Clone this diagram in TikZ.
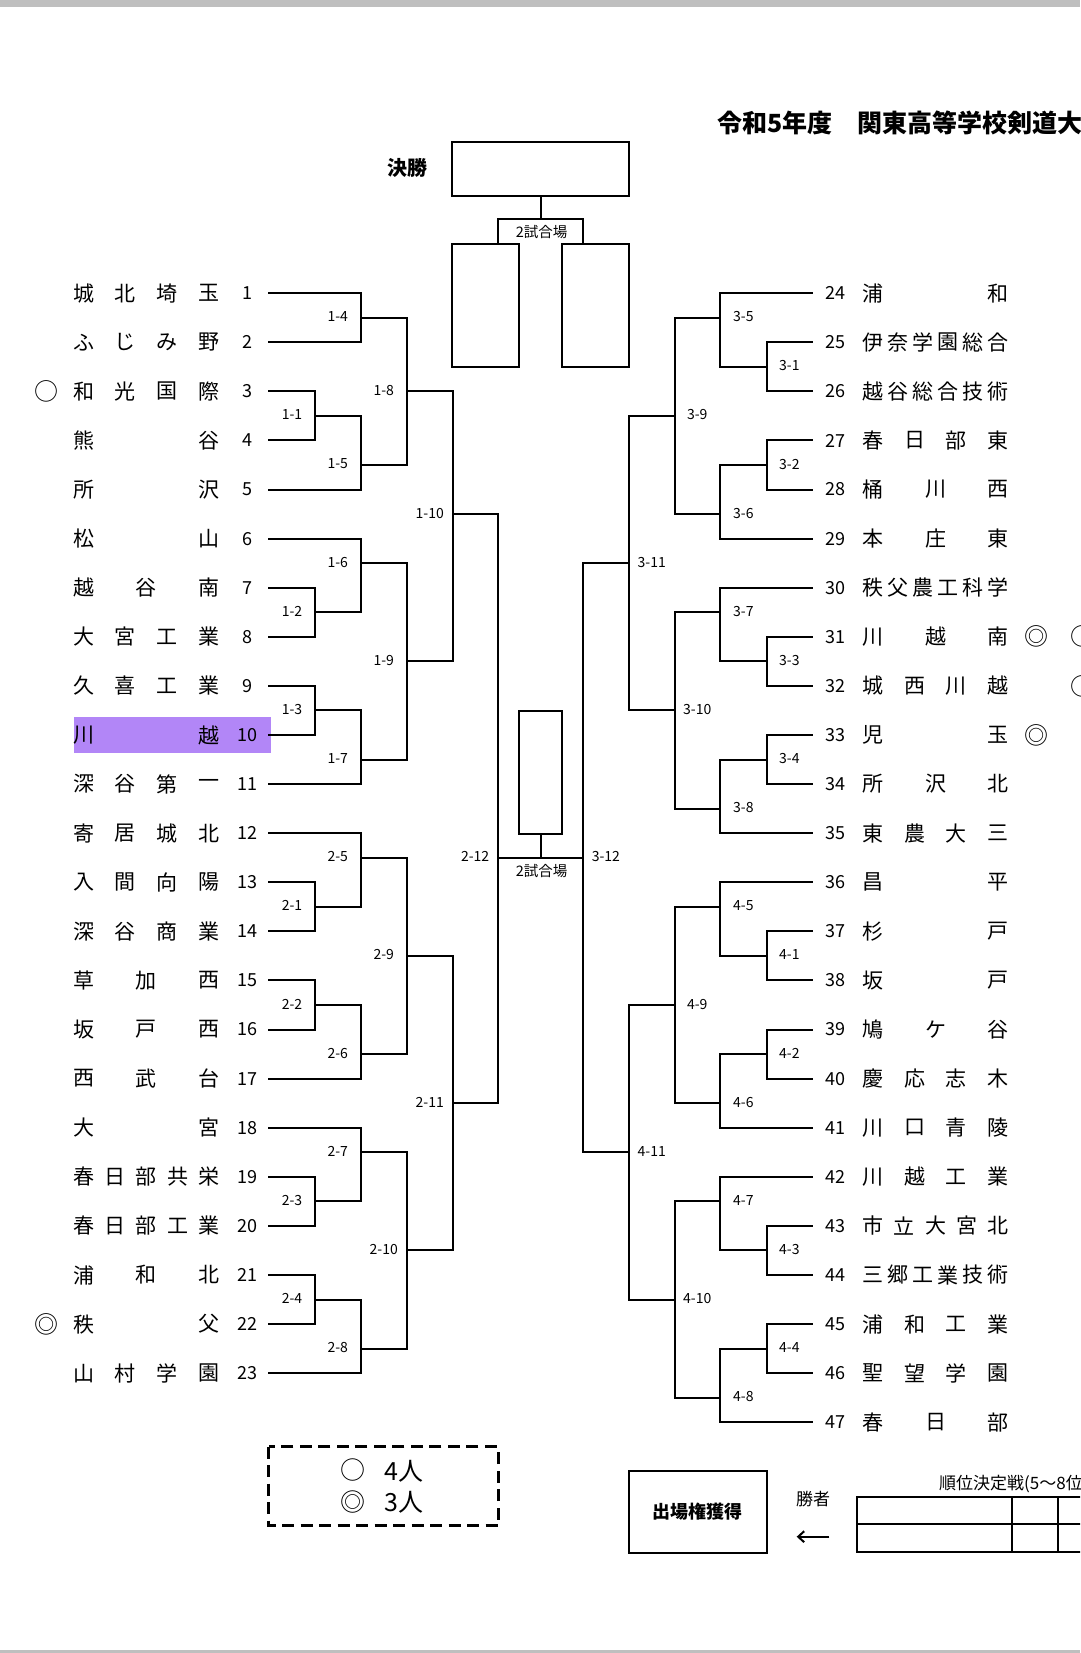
\documentclass[tikz,border=0pt]{standalone}
\usepackage{fontspec}
\setmainfont{Noto Sans CJK JP}
\usetikzlibrary{arrows.meta}
\definecolor{hl}{RGB}{178,134,247}
\definecolor{band}{RGB}{191,191,191}
% levels (px)
\def\Lo{269}\def\La{315}\def\Lb{360.5}\def\Lc{407}\def\Ld{452.5}\def\Le{497.8}
\def\Ro{812}\def\Ra{766.8}\def\Rb{720}\def\Rc{674.5}\def\Rd{629}\def\Re{582.7}
\def\Cx{540.75}
\newcommand\Ym[1]{293.2+(#1-1)*49.09}
\tikzset{
  brk/.style={line width=2pt, line cap=rect},
  boxln/.style={line width=2.3pt},
  nm/.style={font=\fontsize{21}{21}\selectfont, inner sep=0pt},
  num/.style={font=\fontsize{18}{18}\selectfont, inner sep=0pt},
  lbl/.style={font=\fontsize{14}{14}\selectfont, inner sep=0pt},
  mk/.style={font=\fontsize{24}{24}\selectfont, inner sep=0pt},
}
\newcommand\placename[5]{%
  \foreach \ch [count=\cnt] in {#4} {\xdef\nch{\cnt}}%
  \foreach \ch [count=\kk] in {#4} {%
    \node[nm] (#5c\kk) at ({#1+(#2-#1)*(\kk-1)/(\nch-1)},{\Ym{#3}}) {\ch};
  }%
}
\newcommand\teamL[3]{%
  \node[num] (nL#1) at (247,{\Ym{#1}}) {#1};
  \placename{83.5}{209}{#1}{#2}{L#1}
  \draw[brk] (\Lo,{\Ym{#1}}) -- (#3,{\Ym{#1}});
}
\newcommand\teamR[3]{%
  \node[num] (nR#1) at (835.5,{\Ym{#1-23}}) {#1};
  \placename{873}{998}{#1-23}{#2}{R#1}
  \draw[brk] (\Ro,{\Ym{#1-23}}) -- (#3,{\Ym{#1-23}});
}
% label, xv, xprev, ya, yb, yout, xparent
\newcommand\match[7]{%
  \draw[brk] (#2,{\Ym{#4}}) -- (#2,{\Ym{#5}});
  \draw[brk] (#2,{\Ym{#6}}) -- (#7,{\Ym{#6}});
  \node[lbl] (m#1) at ({(#2+#3)/2},{\Ym{#6}-1}) {#1};
}
\begin{document}
\begin{tikzpicture}[x=1pt,y=-1pt]
\useasboundingbox (0,0) rectangle (1080,1653);
\begin{scope}
\clip (0,0) rectangle (1080,1653);
\fill[white] (0,0) rectangle (1080,1653);
\fill[band] (0,0) rectangle (1080,6.7);
\fill[band] (0,1650) rectangle (1080,1653);

% title
\node[font=\bfseries\fontsize{25}{25}\selectfont, anchor=west, inner sep=0pt] (title) at (717,122.5) {令和5年度　関東高等学校剣道大};

% final boxes
\node[font=\bfseries\fontsize{20}{20}\selectfont, inner sep=0pt] (kessho) at (407,168.3) {決勝};
\draw[boxln] (452.3,141.7) rectangle (629.3,195.7);
\coordinate (finB) at (540.5,195.7);
\coordinate (courtT) at (540.5,219);
\draw[brk] (finB) -- (courtT);
\draw[line width=2pt] (497.7,244) -- (497.7,219) -- (583.3,219) -- (583.3,244);
\node[font=\fontsize{14.5}{14.5}\selectfont, inner sep=0pt] (court1) at (541.7,231.7) {2試合場};
\draw[line width=2pt] (452.3,244) rectangle (519.3,367.3);
\draw[line width=2pt] (561.7,244) rectangle (629.3,367.3);

% centre box
\draw[line width=2pt] (519.3,711) rectangle (562.3,834);
\coordinate (cbB) at (540.7,834);
\coordinate (cbJ) at (540.7,{\Ym{12.5}});
\draw[brk] (cbB) -- (cbJ);
\node[font=\fontsize{14.5}{14.5}\selectfont, inner sep=0pt] (court2) at (541.7,871) {2試合場};

% highlight
\fill[hl] (74,716.7) rectangle (271.3,752.7);

% left teams
\teamL{1}{城,北,埼,玉}{\Lb}
\teamL{2}{ふ,じ,み,野}{\Lb}
\teamL{3}{和,光,国,際}{\La}
\teamL{4}{熊,谷}{\La}
\teamL{5}{所,沢}{\Lb}
\teamL{6}{松,山}{\Lb}
\teamL{7}{越,谷,南}{\La}
\teamL{8}{大,宮,工,業}{\La}
\teamL{9}{久,喜,工,業}{\La}
\teamL{10}{川,越}{\La}
\teamL{11}{深,谷,第,一}{\Lb}
\teamL{12}{寄,居,城,北}{\Lb}
\teamL{13}{入,間,向,陽}{\La}
\teamL{14}{深,谷,商,業}{\La}
\teamL{15}{草,加,西}{\La}
\teamL{16}{坂,戸,西}{\La}
\teamL{17}{西,武,台}{\Lb}
\teamL{18}{大,宮}{\Lb}
\teamL{19}{春,日,部,共,栄}{\La}
\teamL{20}{春,日,部,工,業}{\La}
\teamL{21}{浦,和,北}{\La}
\teamL{22}{秩,父}{\La}
\teamL{23}{山,村,学,園}{\Lb}

% right teams
\teamR{24}{浦,和}{\Rb}
\teamR{25}{伊,奈,学,園,総,合}{\Ra}
\teamR{26}{越,谷,総,合,技,術}{\Ra}
\teamR{27}{春,日,部,東}{\Ra}
\teamR{28}{桶,川,西}{\Ra}
\teamR{29}{本,庄,東}{\Rb}
\teamR{30}{秩,父,農,工,科,学}{\Rb}
\teamR{31}{川,越,南}{\Ra}
\teamR{32}{城,西,川,越}{\Ra}
\teamR{33}{児,玉}{\Ra}
\teamR{34}{所,沢,北}{\Ra}
\teamR{35}{東,農,大,三}{\Rb}
\teamR{36}{昌,平}{\Rb}
\teamR{37}{杉,戸}{\Ra}
\teamR{38}{坂,戸}{\Ra}
\teamR{39}{鳩,ケ,谷}{\Ra}
\teamR{40}{慶,応,志,木}{\Ra}
\teamR{41}{川,口,青,陵}{\Rb}
\teamR{42}{川,越,工,業}{\Rb}
\teamR{43}{市,立,大,宮,北}{\Ra}
\teamR{44}{三,郷,工,業,技,術}{\Ra}
\teamR{45}{浦,和,工,業}{\Ra}
\teamR{46}{聖,望,学,園}{\Ra}
\teamR{47}{春,日,部}{\Rb}

% left matches
\match{1-4}{\Lb}{\La}{1}{2}{1.5}{\Lc}
\match{1-1}{\La}{\Lo}{3}{4}{3.5}{\Lb}
\match{1-5}{\Lb}{\La}{3.5}{5}{4.5}{\Lc}
\match{1-8}{\Lc}{\Lb}{1.5}{4.5}{3}{\Ld}
\match{1-2}{\La}{\Lo}{7}{8}{7.5}{\Lb}
\match{1-6}{\Lb}{\La}{6}{7.5}{6.5}{\Lc}
\match{1-3}{\La}{\Lo}{9}{10}{9.5}{\Lb}
\match{1-7}{\Lb}{\La}{9.5}{11}{10.5}{\Lc}
\match{1-9}{\Lc}{\Lb}{6.5}{10.5}{8.5}{\Ld}
\match{1-10}{\Ld}{\Lc}{3}{8.5}{5.5}{\Le}
\match{2-1}{\La}{\Lo}{13}{14}{13.5}{\Lb}
\match{2-5}{\Lb}{\La}{12}{13.5}{12.5}{\Lc}
\match{2-2}{\La}{\Lo}{15}{16}{15.5}{\Lb}
\match{2-6}{\Lb}{\La}{15.5}{17}{16.5}{\Lc}
\match{2-9}{\Lc}{\Lb}{12.5}{16.5}{14.5}{\Ld}
\match{2-3}{\La}{\Lo}{19}{20}{19.5}{\Lb}
\match{2-7}{\Lb}{\La}{18}{19.5}{18.5}{\Lc}
\match{2-4}{\La}{\Lo}{21}{22}{21.5}{\Lb}
\match{2-8}{\Lb}{\La}{21.5}{23}{22.5}{\Lc}
\match{2-10}{\Lc}{\Lb}{18.5}{22.5}{20.5}{\Ld}
\match{2-11}{\Ld}{\Lc}{14.5}{20.5}{17.5}{\Le}
\match{2-12}{\Le}{\Ld}{5.5}{17.5}{12.5}{\Cx}

% right matches
\match{3-1}{\Ra}{\Ro}{2}{3}{2.5}{\Rb}
\match{3-5}{\Rb}{\Ra}{1}{2.5}{1.5}{\Rc}
\match{3-2}{\Ra}{\Ro}{4}{5}{4.5}{\Rb}
\match{3-6}{\Rb}{\Ra}{4.5}{6}{5.5}{\Rc}
\match{3-9}{\Rc}{\Rb}{1.5}{5.5}{3.5}{\Rd}
\match{3-3}{\Ra}{\Ro}{8}{9}{8.5}{\Rb}
\match{3-7}{\Rb}{\Ra}{7}{8.5}{7.5}{\Rc}
\match{3-4}{\Ra}{\Ro}{10}{11}{10.5}{\Rb}
\match{3-8}{\Rb}{\Ra}{10.5}{12}{11.5}{\Rc}
\match{3-10}{\Rc}{\Rb}{7.5}{11.5}{9.5}{\Rd}
\match{3-11}{\Rd}{\Rc}{3.5}{9.5}{6.5}{\Re}
\match{4-1}{\Ra}{\Ro}{14}{15}{14.5}{\Rb}
\match{4-5}{\Rb}{\Ra}{13}{14.5}{13.5}{\Rc}
\match{4-2}{\Ra}{\Ro}{16}{17}{16.5}{\Rb}
\match{4-6}{\Rb}{\Ra}{16.5}{18}{17.5}{\Rc}
\match{4-9}{\Rc}{\Rb}{13.5}{17.5}{15.5}{\Rd}
\match{4-3}{\Ra}{\Ro}{20}{21}{20.5}{\Rb}
\match{4-7}{\Rb}{\Ra}{19}{20.5}{19.5}{\Rc}
\match{4-4}{\Ra}{\Ro}{22}{23}{22.5}{\Rb}
\match{4-8}{\Rb}{\Ra}{22.5}{24}{23.5}{\Rc}
\match{4-10}{\Rc}{\Rb}{19.5}{23.5}{21.5}{\Rd}
\match{4-11}{\Rd}{\Rc}{15.5}{21.5}{18.5}{\Re}
\match{3-12}{\Re}{\Rd}{6.5}{18.5}{12.5}{\Cx}

% markers (the rightmost two are cut by the page edge, as in the reference)
\node[mk] (mkL3) at (46.5,{\Ym{3}}) {○};
\node[mk] (mkL22) at (46.5,{\Ym{22}}) {◎};
\node[mk] (mkR31a) at (1036,{\Ym{8}}) {◎};
\node[mk] (mkR33) at (1036,{\Ym{10}}) {◎};
\node[mk] (mkR31b) at (1082,{\Ym{8}}) {○};
\node[mk] (mkR32) at (1082,{\Ym{9}}) {○};

% legend
\draw[line width=3pt, dash pattern=on 12pt off 6.5pt] (268.6,1446.7) rectangle (498,1525.7);
\node[font=\fontsize{25}{25}\selectfont, inner sep=0pt] (lg1) at (353,1470) {○};
\node[font=\fontsize{25}{25}\selectfont, inner sep=0pt, anchor=west] (lg1t) at (384,1471) {4人};
\node[font=\fontsize{25}{25}\selectfont, inner sep=0pt] (lg2) at (353,1502) {◎};
\node[font=\fontsize{25}{25}\selectfont, inner sep=0pt, anchor=west] (lg2t) at (384,1502) {3人};

% bottom right
\draw[line width=2.2pt] (628.7,1471) rectangle (766.6,1552.7);
\node[font=\bfseries\fontsize{18}{18}\selectfont, inner sep=0pt] (qual) at (697.7,1512) {出場権獲得};
\node[font=\fontsize{17}{17}\selectfont, inner sep=0pt] (winner) at (813,1499) {勝者};
\coordinate (arS) at (829.3,1536.7);
\coordinate (arE) at (796.7,1536.7);
\draw[line width=2pt, -{Straight Barb[length=6pt,width=11pt]}] (arS) -- (arE);
\node[font=\fontsize{17}{17}\selectfont, inner sep=0pt, anchor=west] (rankcap) at (939,1484) {順位決定戦(5～8位};
\draw[line width=2.2pt] (857.3,1496.7) rectangle (1100,1551.7);
\draw[line width=2.2pt] (857.3,1524.3) -- (1100,1524.3);
\draw[line width=2.2pt] (1012.3,1496.7) -- (1012.3,1551.7);
\draw[line width=2.2pt] (1058.3,1496.7) -- (1058.3,1551.7);
\end{scope}
\end{tikzpicture}
\end{document}
